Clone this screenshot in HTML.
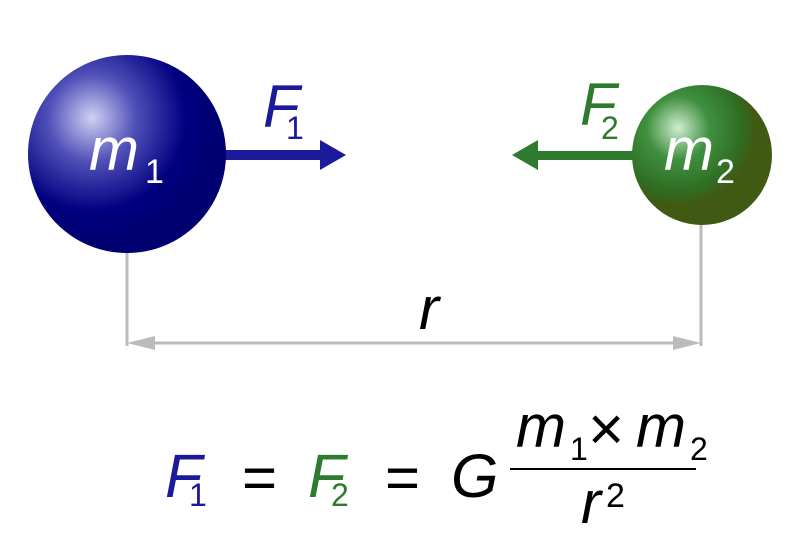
<!DOCTYPE html>
<html><head><meta charset="utf-8"><style>body{margin:0;background:#fff}svg{display:block}</style></head>
<body>
<svg width="800" height="560" viewBox="0 0 800 560" xmlns="http://www.w3.org/2000/svg" font-family="Liberation Sans, sans-serif">
<defs>
<radialGradient id="g1" cx="92" cy="118" r="125" gradientUnits="userSpaceOnUse">
<stop offset="0" stop-color="#d0d0f4"/><stop offset="0.35" stop-color="#5050b8"/><stop offset="0.75" stop-color="#000080"/><stop offset="1" stop-color="#000070"/></radialGradient>
<radialGradient id="g2" cx="678" cy="128" r="90" gradientUnits="userSpaceOnUse">
<stop offset="0" stop-color="#d0ecd0"/><stop offset="0.35" stop-color="#3f9040"/><stop offset="0.7" stop-color="#2f6e22"/><stop offset="0.85" stop-color="#405a14"/><stop offset="1" stop-color="#405a14"/></radialGradient>
</defs>
<g stroke="#bbb" stroke-width="3" fill="none">
<line x1="127" y1="250" x2="127" y2="346"/>
<line x1="701" y1="222" x2="701" y2="346"/>
<line x1="140" y1="343" x2="688" y2="343"/>
</g>
<polygon points="127,343 155,336 155,350" fill="#bbb"/>
<polygon points="701,343 673,336 673,350" fill="#bbb"/>
<rect x="224" y="150" width="100" height="10" fill="#1a1a9a"/>
<polygon points="346,155 320,140 320,170" fill="#1a1a9a"/>
<rect x="535" y="151" width="99" height="9" fill="#2e7a2e"/>
<polygon points="512,155 538,140 538,170" fill="#2e7a2e"/>
<circle cx="127" cy="154" r="99" fill="url(#g1)"/>
<circle cx="702" cy="155" r="70" fill="url(#g2)"/>
<g font-style="italic" font-size="60" fill="#fff">
<text x="89" y="170">m</text><text x="664" y="170">m</text></g>
<g font-size="34" fill="#fff"><text x="145" y="183">1</text><text x="716" y="183">2</text></g>
<text x="263" y="127" font-style="italic" font-size="60" fill="#1a1a9a">F</text>
<text x="286" y="139" font-size="32" fill="#1a1a9a">1</text>
<text x="580" y="125" font-style="italic" font-size="60" fill="#2e7a2e">F</text>
<text x="601" y="139" font-size="32" fill="#2e7a2e">2</text>
<text x="419" y="329" font-style="italic" font-size="60" fill="#000">r</text>
<text x="165" y="497" font-style="italic" font-size="61" fill="#1a1a9a">F</text>
<text x="189" y="506" font-size="32" fill="#1a1a9a">1</text>
<text x="242" y="498" font-size="60" fill="#000">=</text>
<text x="308" y="497" font-style="italic" font-size="61" fill="#2e7a2e">F</text>
<text x="331" y="506" font-size="32" fill="#2e7a2e">2</text>
<text x="385" y="498" font-size="60" fill="#000">=</text>
<text x="451" y="497" font-style="italic" font-size="61" fill="#000">G</text>
<rect x="510" y="468" width="186" height="2" fill="#000"/>
<text x="516" y="447" font-style="italic" font-size="60" fill="#000">m</text>
<text x="570" y="460" font-size="32" fill="#000">1</text>
<text x="588" y="450" font-size="62" fill="#000">×</text>
<text x="636" y="447" font-style="italic" font-size="60" fill="#000">m</text>
<text x="690" y="460" font-size="32" fill="#000">2</text>
<text x="581" y="523" font-style="italic" font-size="60" fill="#000">r</text>
<text x="606" y="507" font-size="34" fill="#000">2</text>
</svg>
</body></html>
